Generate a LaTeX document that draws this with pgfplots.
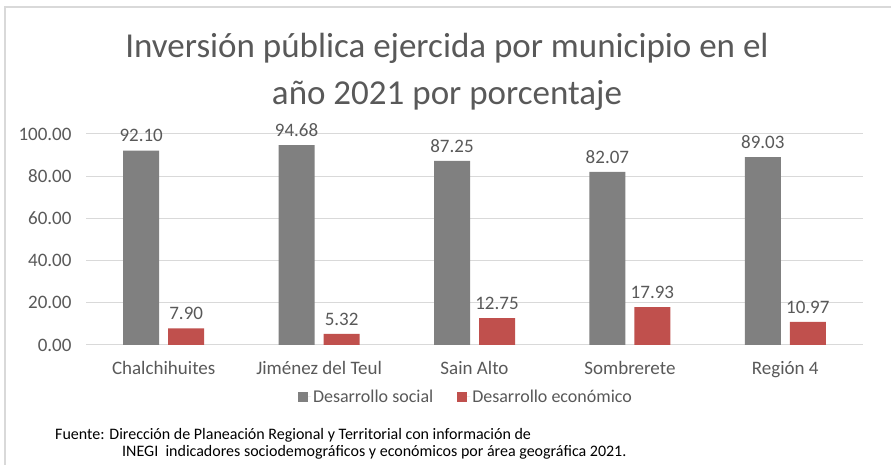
\documentclass[border=0pt]{standalone}
\usepackage{fontspec}
\setmainfont{Carlito}
\usepackage{pgfplots}
\pgfplotsset{compat=1.18}
\definecolor{soc}{HTML}{808080}
\definecolor{eco}{HTML}{C0504D}
\definecolor{txt}{HTML}{595959}
\definecolor{grd}{HTML}{D9D9D9}
\begin{document}
\begin{tikzpicture}
\useasboundingbox (0,0) rectangle (891bp,465bp);
\fill[white] (0,0) rectangle (891bp,465bp);
\draw[grd, line width=1.2bp] (5bp,0) -- (5bp,458bp) -- (891bp,458bp);
\begin{axis}[
    at={(86bp,120bp)}, anchor=south west,
    scale only axis,
    width=777bp, height=211bp,
    ybar=9bp, bar width=36bp,
    xmin=-0.5, xmax=4.5, ymin=0, ymax=100,
    xtick={0,1,2,3,4},
    xticklabels={Chalchihuites, Jiménez del Teul, Sain Alto, Sombrerete, Región 4},
    ytick={0,20,40,60,80,100},
    ymajorgrids, grid style={grd, line width=1bp},
    axis line style={draw=none},
    tick style={draw=none},
    /pgf/number format/assume math mode=true,
    yticklabel={\pgfmathprintnumber[fixed,zerofill,precision=2]{\tick}},
    tick label style={font=\fontsize{19bp}{22bp}\selectfont, text=txt},
    xticklabel style={yshift=-9bp},
    yticklabel style={xshift=-11bp},
    nodes near coords={\pgfmathprintnumber[fixed,zerofill,precision=2]{\pgfplotspointmeta}},
    nodes near coords style={font=\fontsize{19bp}{22bp}\selectfont, text=txt, anchor=south, yshift=5bp},
    legend columns=2,
    legend style={at={(0.489,-0.246)}, anchor=center, draw=none, fill=none,
        font=\fontsize{18bp}{21bp}\selectfont, text=txt,
        /tikz/every even column/.append style={column sep=22bp}},
    legend image code/.code={\fill[#1] (0bp,-5bp) rectangle (10bp,5bp); \path (0bp,0bp) -- (13bp,0bp);},
]
\addplot[fill=soc, draw=none] coordinates {(0,92.10) (1,94.68) (2,87.25) (3,82.07) (4,89.03)};
\addplot[fill=eco, draw=none] coordinates {(0,7.90) (1,5.32) (2,12.75) (3,17.93) (4,10.97)};
\legend{Desarrollo social, Desarrollo económico}
\end{axis}
\node[text=txt, font=\fontsize{35bp}{42bp}\selectfont] at (447bp,417bp) {Inversión pública ejercida por municipio en el};
\node[text=txt, font=\fontsize{35bp}{42bp}\selectfont] at (447bp,370bp) {año 2021 por porcentaje};
\node[anchor=west, inner sep=0, font=\fontsize{16bp}{19bp}\selectfont] at (55bp,30bp) {Fuente: Dirección de Planeación Regional y Territorial con información de};
\node[anchor=west, inner sep=0, font=\fontsize{16bp}{19bp}\selectfont] at (122bp,13bp) {INEGI\ \ indicadores sociodemográficos y económicos por área geográfica 2021.};
\end{tikzpicture}
\end{document}
